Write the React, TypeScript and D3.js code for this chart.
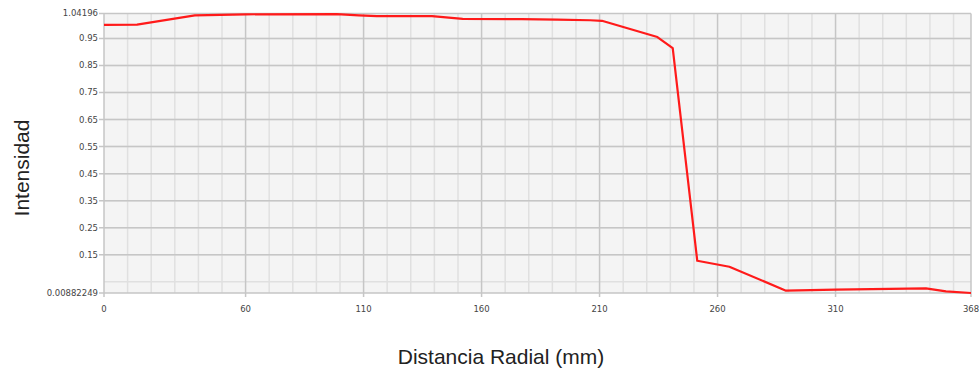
import * as d3 from 'd3';

// Radial profile
const distance = [0, 14, 38.5, 60, 98.6, 108, 115.6, 139, 152, 177, 192, 206, 211, 234.5, 241, 251.4, 265, 289, 310, 348.3, 356.8, 367.4];
const intensity = [1.0, 1.001, 1.035, 1.039, 1.04, 1.035, 1.032, 1.032, 1.022, 1.021, 1.019, 1.017, 1.015, 0.955, 0.914, 0.128, 0.106, 0.0173, 0.021, 0.026, 0.015, 0.00882249];

const xMin = 0;
const xMax = 367.4;
const yMin = 0.00882249;
const yMax = 1.04196;

const xMajor = [60, 110, 160, 210, 260, 310];
const xLabels = ['0', '60', '110', '160', '210', '260', '310', '368'];
const yMajor = [0.15, 0.25, 0.35, 0.45, 0.55, 0.65, 0.75, 0.85, 0.95];
const yLabels = ['0.00882249', '0.15', '0.25', '0.35', '0.45', '0.55', '0.65', '0.75', '0.85', '0.95', '1.04196'];

const W = 979;
const H = 373;
const m = { left: 104, right: 8, top: 13.5, bottom: 80 };

export default function App() {
  const x = d3.scaleLinear().domain([xMin, xMax]).range([m.left, W - m.right]);
  const y = d3.scaleLinear().domain([yMin, yMax]).range([H - m.bottom, m.top]);

  const xMinor = d3.range(10, xMax, 10).filter(v => !xMajor.includes(v));
  const yMinor = d3.range(0.05, 1.03, 0.1).map(v => +v.toFixed(2));

  const pts: [number, number][] = distance.map((d, i) => [d, intensity[i]]);
  const line = d3.line<[number, number]>().x(d => x(d[0])).y(d => y(d[1]));

  const xTickVals = [xMin, ...xMajor, xMax];
  const yTickVals = [yMin, ...yMajor, yMax];
  const font = 'DejaVu Sans, Verdana, sans-serif';

  return (
    <svg width={W} height={H} style={{ position: 'absolute', left: 0, top: 0, background: '#fff' }}>
      <rect x={x(xMin)} y={y(yMax)} width={x(xMax) - x(xMin)} height={y(yMin) - y(yMax)} fill="#f4f4f4" />
      <g stroke="#e0e0e0" strokeWidth={1.5}>
        {xMinor.map(v => (
          <line key={'xm' + v} x1={x(v)} x2={x(v)} y1={y(yMax)} y2={y(yMin)} />
        ))}
        {yMinor.map(v => (
          <line key={'ym' + v} x1={x(xMin)} x2={x(xMax)} y1={y(v)} y2={y(v)} />
        ))}
      </g>
      <g stroke="#c6c6c6" strokeWidth={1.5}>
        {xMajor.map(v => (
          <line key={'xM' + v} x1={x(v)} x2={x(v)} y1={y(yMax)} y2={y(yMin) + 4} />
        ))}
        {yMajor.map(v => (
          <line key={'yM' + v} x1={x(xMin) - 5} x2={x(xMax)} y1={y(v)} y2={y(v)} />
        ))}
        <line x1={x(xMin) - 5} x2={x(xMax)} y1={y(yMax)} y2={y(yMax)} />
        <line x1={x(xMin) - 5} x2={x(xMax)} y1={y(yMin)} y2={y(yMin)} />
        <line x1={x(xMin)} x2={x(xMin)} y1={y(yMax)} y2={y(yMin) + 4} />
        <line x1={x(xMax)} x2={x(xMax)} y1={y(yMax)} y2={y(yMin) + 4} />
      </g>
      <path d={line(pts) ?? ''} fill="none" stroke="#ff1a1a" strokeWidth={2.2} strokeLinejoin="round" />
      <g fontFamily={font} fontSize={8.5} fill="#444">
        {yTickVals.map((v, i) => (
          <text key={'yl' + i} x={x(xMin) - 6} y={y(v)} dy="0.35em" textAnchor="end">
            {yLabels[i]}
          </text>
        ))}
        {xTickVals.map((v, i) => (
          <text key={'xl' + i} x={x(v)} y={y(yMin) + 19} textAnchor="middle">
            {xLabels[i]}
          </text>
        ))}
      </g>
      <text
        transform="translate(29, 168) rotate(-90)"
        textAnchor="middle"
        fontFamily="Liberation Sans, Arial, sans-serif"
        fontSize={21}
        fill="#222"
      >
        Intensidad
      </text>
      <text
        x={501}
        y={364}
        textAnchor="middle"
        fontFamily="Liberation Sans, Arial, sans-serif"
        fontSize={21}
        fill="#222"
      >
        Distancia Radial (mm)
      </text>
    </svg>
  );
}
